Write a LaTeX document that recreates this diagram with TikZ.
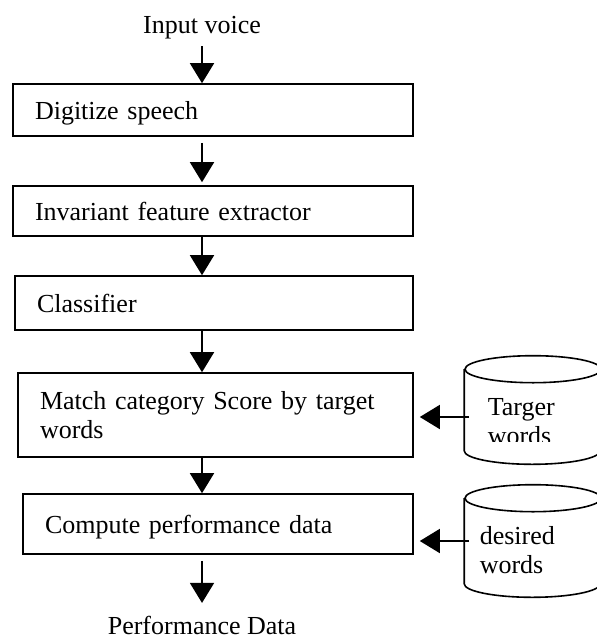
\documentclass[tikz,border=0pt]{standalone}
\usepackage{fontspec}
\setmainfont{Liberation Serif}
\usepackage{tikz}
\usetikzlibrary{arrows.meta,calc,positioning}

\begin{document}
\begin{tikzpicture}[x=0.5pt,y=-0.5pt,font=\fontsize{13}{14.5}\selectfont,line width=0.8pt,>={Triangle[length=10pt,width=12pt]},
  stage/.style={draw,align=left,inner xsep=11pt,inner ysep=0pt,anchor=center},
  flat/.style={stage,text depth=0pt},
  store/.style={minimum width=68pt,inner sep=0pt},
  lbl/.style={inner sep=0pt}]
  \useasboundingbox (0,0) rectangle (597,637);
  % main chain
  \node[lbl] (inp) at (202,28) {Input voice};
  \node[flat,text width=178pt,minimum height=26pt] (dig) at (213,110) {Digitize speech};
  \node[flat,text width=178pt,minimum height=25pt] (inv) at (213,211) {Invariant feature extractor};
  \node[flat,text width=177pt,minimum height=27pt] (cls) at (214,303) {Classifier};
  \node[stage,text width=175.5pt,minimum height=42pt] (mat) at (215.5,415) {Match category Score by target\\words};
  \node[flat,text width=173pt,minimum height=30pt] (cmp) at (218,524) {Compute performance data};
  \node[lbl] (out) at (202,625) {Performance Data};
  \draw[->,shorten <=3pt] (inp) -- (inp |- dig.north);
  \draw[->,shorten <=3pt,shorten >=1.5pt] (dig.south -| inp) -- (inv.north -| inp);
  \draw[->] (inv.south -| inp) -- (cls.north -| inp);
  \draw[->] (cls.south -| inp) -- (mat.north -| inp);
  \draw[->] (mat.south -| inp) -- (cmp.north -| inp);
  \draw[->,shorten <=3pt,shorten >=6pt] (cmp.south -| inp) -- (out);
  % word stores (cylinders)
  \node[store,minimum height=40pt] (tgt) at (533,410) {};
  \node[store,minimum height=42pt] (des) at (533,541) {};
  \foreach \s in {tgt,des} {
    \draw (\s.north west) -- (\s.south west) arc[start angle=180,end angle=360,x radius=34pt,y radius=6.75pt] -- (\s.north east);
    \draw (\s.north) ellipse[x radius=34pt,y radius=6.75pt];
  }
  \begin{scope}
    \clip (460,357) rectangle (600,441);
    \node[lbl,anchor=west,align=left] (tgtx) at (487,422) {Targer\\words};
  \end{scope}
  \node[lbl,anchor=west,align=left] (desx) at (479,550) {desired\\words};
  \draw[->,shorten <=-2.5pt,shorten >=3pt] ([yshift=-3.5pt]tgt.west) -- ([yshift=-3.5pt]tgt.west -| mat.east);
  \draw[->,shorten <=-2.5pt,shorten >=3pt] (des.west) -- (des.west -| cmp.east);
\end{tikzpicture}
\end{document}
